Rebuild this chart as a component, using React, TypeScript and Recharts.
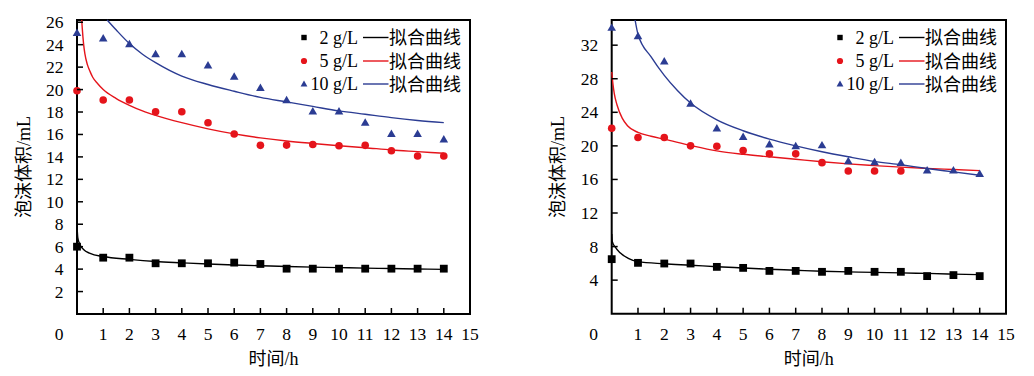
import React from 'react';
import { ComposedChart, Line, Scatter, XAxis, YAxis, ReferenceArea } from 'recharts';

// ---------- data ----------
const hours = [0, 1, 2, 3, 4, 5, 6, 7, 8, 9, 10, 11, 12, 13, 14];
const hoursRight5 = [0, 1, 2, 3, 4, 5, 6, 7, 8, 9, 10, 11];
const xTicks = [0, 1, 2, 3, 4, 5, 6, 7, 8, 9, 10, 11, 12, 13, 14, 15];
const leftYTicks = [2, 4, 6, 8, 10, 12, 14, 16, 18, 20, 22, 24, 26];
const rightYTicks = [4, 8, 12, 16, 20, 24, 28, 32];

const seriesLabels = ['2 g/L', '5 g/L', '10 g/L'];
const fitLabel = '拟合曲线';
const xTitle = '时间/h';
const yTitle = '泡沫体积/mL';

// left panel observations
const leftObs2 = [6.0, 5.02, 5.02, 4.52, 4.52, 4.52, 4.58, 4.46, 4.04, 4.04, 4.04, 4.04, 4.04, 4.04, 4.04];
const leftObs5 = [19.9, 19.07, 19.07, 18.03, 18.03, 17.05, 16.04, 15.03, 15.05, 15.1, 15.0, 15.03, 14.55, 14.08, 14.08];
const leftObs10 = [25.0, 24.5, 24.0, 23.1, 23.1, 22.1, 21.1, 20.1, 19.0, 18.0, 18.0, 17.0, 16.0, 16.0, 15.5];

// left panel fitted curves
const leftFit2T = [0.003, 0.03, 0.09, 0.25, 0.5, 1, 2, 3, 4, 5, 6, 7, 8, 9, 10, 11, 12, 13, 14];
const leftFit2 = [7.8, 6.8, 6.3, 5.75, 5.4, 5.12, 4.87, 4.68, 4.56, 4.45, 4.37, 4.3, 4.23, 4.18, 4.13, 4.09, 4.05, 4.01, 3.98];
const leftFit5T = [0.18, 0.2, 0.25, 0.3, 0.4, 0.5, 0.6, 0.8, 1, 1.5, 2, 2.5, 3, 4, 5, 6, 7, 8, 9, 10, 11, 12, 13, 14];
const leftFit5 = [26.2, 25.5, 24.1, 23.2, 22.2, 21.6, 21.1, 20.5, 20.0, 19.2, 18.6, 18.1, 17.7, 17.05, 16.5, 16.05, 15.7, 15.42, 15.2, 15.0, 14.82, 14.62, 14.47, 14.32];
const leftFit10T = [1.15, 1.5, 2, 2.5, 3, 4, 5, 6, 7, 8, 9, 10, 11, 12, 13, 14];
const leftFit10 = [26.2, 25.3, 24.1, 23.15, 22.4, 21.2, 20.45, 19.85, 19.3, 18.9, 18.5, 18.1, 17.8, 17.5, 17.25, 17.05];

// right panel observations
const rightObs2 = [6.5, 6.06, 5.98, 5.98, 5.58, 5.46, 5.1, 5.1, 4.99, 5.1, 4.99, 4.99, 4.48, 4.6, 4.48];
const rightObs5 = [22.1, 21.0, 21.0, 20.0, 19.95, 19.44, 19.05, 19.05, 18.0, 17.0, 17.0, 17.0];
const rightObs10 = [34.0, 33.0, 30.0, 24.95, 22.0, 21.0, 20.1, 19.9, 20.0, 18.1, 18.0, 17.9, 17.0, 17.0, 16.6];

// right panel fitted curves
const rightFit2T = [0.003, 0.02, 0.13, 0.32, 0.63, 1, 2, 3, 4, 5, 6, 7, 8, 9, 10, 11, 12, 13, 14];
const rightFit2 = [9.5, 8.6, 7.95, 7.25, 6.6, 6.2, 5.95, 5.78, 5.6, 5.45, 5.3, 5.18, 5.06, 4.98, 4.92, 4.86, 4.8, 4.72, 4.65];
const rightFit5T = [0.003, 0.05, 0.1, 0.2, 0.4, 0.6, 1, 1.5, 2, 3, 4, 5, 6, 7, 8, 9, 10, 11, 12, 13, 14];
const rightFit5 = [28.8, 27.3, 26.2, 24.9, 23.3, 22.4, 21.6, 21.15, 20.8, 20.05, 19.4, 19.0, 18.7, 18.4, 18.1, 17.85, 17.65, 17.47, 17.32, 17.18, 17.05];
const rightFit10T = [0.89, 1, 1.5, 2, 2.5, 3, 4, 5, 6, 7, 8, 9, 10, 11, 12, 13, 14];
const rightFit10 = [35, 33.3, 30.6, 28.4, 26.6, 25.1, 23.1, 21.8, 20.8, 20.0, 19.3, 18.7, 18.15, 17.75, 17.3, 16.9, 16.5];

// ---------- styling ----------
const FONT = '"Liberation Serif", "Times New Roman", "Noto Sans CJK SC", serif';
const RED = '#e5141b';
const BLUE = '#2b3c93';
const BLACK = '#000000';
const H = 376;

type Pt = { t: number; v: number };
const toPts = (ts: number[], vs: number[]): Pt[] => vs.map((v, i) => ({ t: ts[i], v }));

const SquareShape = (p: any) => <rect x={p.cx - 3.9} y={p.cy - 3.9} width={7.8} height={7.8} fill={BLACK} />;
const CircleShape = (p: any) => <circle cx={p.cx} cy={p.cy} r={3.8} fill={RED} />;
const triPath = (cx: number, cy: number, w: number) => {
  const h = w * 0.866;
  return `M${cx},${cy - (2 * h) / 3}L${cx + w / 2},${cy + h / 3}L${cx - w / 2},${cy + h / 3}Z`;
};
const TriShape = (p: any) => <path d={triPath(p.cx, p.cy, 8.6)} fill={BLUE} />;

const XTick = (p: any) => {
  const v = p.payload.value;
  const dx = v === 0 ? -18 : 0;
  return (
    <g>
      {v > 0 && v < 15 ? <line x1={p.x} x2={p.x} y1={p.y} y2={p.y - 6} stroke={BLACK} strokeWidth={1.5} /> : null}
      <text x={p.x + dx} y={p.y + 26} textAnchor="middle" fontFamily={FONT} fontSize={17.5} fill={BLACK}>
        {v}
      </text>
    </g>
  );
};

const YTick = (p: any) => {
  const v = p.payload.value;
  return (
    <g>
      <line x1={p.x} x2={p.x + 6} y1={p.y} y2={p.y} stroke={BLACK} strokeWidth={1.5} />
      <text x={p.x - 13.5} y={p.y} dy="0.34em" textAnchor="end" fontFamily={FONT} fontSize={17.5} fill={BLACK}>
        {v}
      </text>
    </g>
  );
};

type PanelProps = {
  left: number;
  width: number;
  plotLeft: number;
  plotRight: number;
  plotBottom: number;
  yMax: number;
  yTicks: number[];
  obs2: Pt[];
  obs5: Pt[];
  obs10: Pt[];
  fit2: Pt[];
  fit5: Pt[];
  fit10: Pt[];
};

function Panel(props: PanelProps) {
  const { left, width, plotLeft, plotRight, plotBottom, yMax, yTicks } = props;
  const xAxisH = 30;
  const pl = plotLeft - left;
  const pr = plotRight - left;
  return (
    <div style={{ position: 'absolute', left, top: 0, width, height: H }}>
      <ComposedChart
        width={width}
        height={H}
        margin={{ top: 20, right: width - pr, bottom: H - plotBottom - xAxisH, left: 0 }}
      >
        <XAxis
          type="number"
          dataKey="t"
          domain={[0, 15]}
          ticks={xTicks}
          interval={0}
          height={xAxisH}
          tickSize={0}
          tickMargin={0}
          axisLine={false}
          tickLine={false}
          tick={(p: any) => <XTick {...p} />}
        />
        <YAxis
          type="number"
          dataKey="v"
          domain={[0, yMax]}
          ticks={yTicks}
          interval={0}
          width={pl}
          tickSize={0}
          tickMargin={0}
          axisLine={false}
          tickLine={false}
          tick={(p: any) => <YTick {...p} />}
        />
        <ReferenceArea x1={0} x2={15} y1={0} y2={yMax} fill="none" stroke={BLACK} strokeWidth={2} fillOpacity={0} />
        <Line data={props.fit2} dataKey="v" type="monotone" stroke={BLACK} strokeWidth={1.4} dot={false} activeDot={false} isAnimationActive={false} />
        <Line data={props.fit5} dataKey="v" type="monotone" stroke={RED} strokeWidth={1.4} dot={false} activeDot={false} isAnimationActive={false} />
        <Line data={props.fit10} dataKey="v" type="monotone" stroke={BLUE} strokeWidth={1.4} dot={false} activeDot={false} isAnimationActive={false} />
        <Scatter data={props.obs2} shape={SquareShape} isAnimationActive={false} />
        <Scatter data={props.obs5} shape={CircleShape} isAnimationActive={false} />
        <Scatter data={props.obs10} shape={TriShape} isAnimationActive={false} />
      </ComposedChart>
    </div>
  );
}

function Overlay({ plotLeft, plotRight }: { plotLeft: number; plotRight: number; plotTop: number; plotBottom: number }) {
  const R = plotRight;
  const rows = [37.5, 61, 84];
  const colors = [BLACK, RED, BLUE];
  const mx = R - 166;
  const midX = (plotLeft + plotRight) / 2;
  const yTitleX = plotLeft - 53.5;
  const yTitleY = 167;
  return (
    <g>
      {rows.map((ry, i) => (
        <g key={i}>
          {i === 0 ? <rect x={mx - 2.7} y={ry - 2.7} width={5.4} height={5.4} fill={BLACK} /> : null}
          {i === 1 ? <circle cx={mx} cy={ry} r={3.1} fill={RED} /> : null}
          {i === 2 ? <path d={triPath(mx, ry + 0.5, 6.8)} fill={BLUE} /> : null}
          <text x={R - 112} y={ry + 6.3} textAnchor="end" fontFamily={FONT} fontSize={18} fill={BLACK}>
            {seriesLabels[i]}
          </text>
          <line x1={R - 107} x2={R - 81.5} y1={ry} y2={ry} stroke={colors[i]} strokeWidth={1.4} />
          <text x={R - 81} y={ry + 6.8} textAnchor="start" fontFamily={FONT} fontSize={18} fill={BLACK}>
            {fitLabel}
          </text>
        </g>
      ))}
      <text x={midX} y={364.5} textAnchor="middle" fontFamily={FONT} fontSize={18} fill={BLACK}>
        {xTitle}
      </text>
      <text
        x={yTitleX}
        y={yTitleY}
        textAnchor="middle"
        dominantBaseline="central"
        transform={`rotate(-90 ${yTitleX} ${yTitleY})`}
        fontFamily={FONT}
        fontSize={18}
        fill={BLACK}
      >
        {yTitle}
      </text>
    </g>
  );
}

export default function App() {
  const L = { plotLeft: 77, plotRight: 470, plotTop: 20, plotBottom: 314 };
  const Rt = { plotLeft: 611.7, plotRight: 1006, plotTop: 20, plotBottom: 313.7 };
  return (
    <div style={{ position: 'absolute', left: 0, top: 0, width: 1034, height: H, background: '#fff', overflow: 'hidden' }}>
      <Panel
        left={0}
        width={517}
        plotLeft={L.plotLeft}
        plotRight={L.plotRight}
        plotBottom={L.plotBottom}
        yMax={26.2}
        yTicks={leftYTicks}
        obs2={toPts(hours, leftObs2)}
        obs5={toPts(hours, leftObs5)}
        obs10={toPts(hours, leftObs10)}
        fit2={toPts(leftFit2T, leftFit2)}
        fit5={toPts(leftFit5T, leftFit5)}
        fit10={toPts(leftFit10T, leftFit10)}
      />
      <Panel
        left={530}
        width={504}
        plotLeft={Rt.plotLeft}
        plotRight={Rt.plotRight}
        plotBottom={Rt.plotBottom}
        yMax={35}
        yTicks={rightYTicks}
        obs2={toPts(hours, rightObs2)}
        obs5={toPts(hoursRight5, rightObs5)}
        obs10={toPts(hours, rightObs10)}
        fit2={toPts(rightFit2T, rightFit2)}
        fit5={toPts(rightFit5T, rightFit5)}
        fit10={toPts(rightFit10T, rightFit10)}
      />
      <svg width={1034} height={H} style={{ position: 'absolute', left: 0, top: 0, pointerEvents: 'none' }}>
        <Overlay {...L} />
        <Overlay {...Rt} />
      </svg>
    </div>
  );
}
